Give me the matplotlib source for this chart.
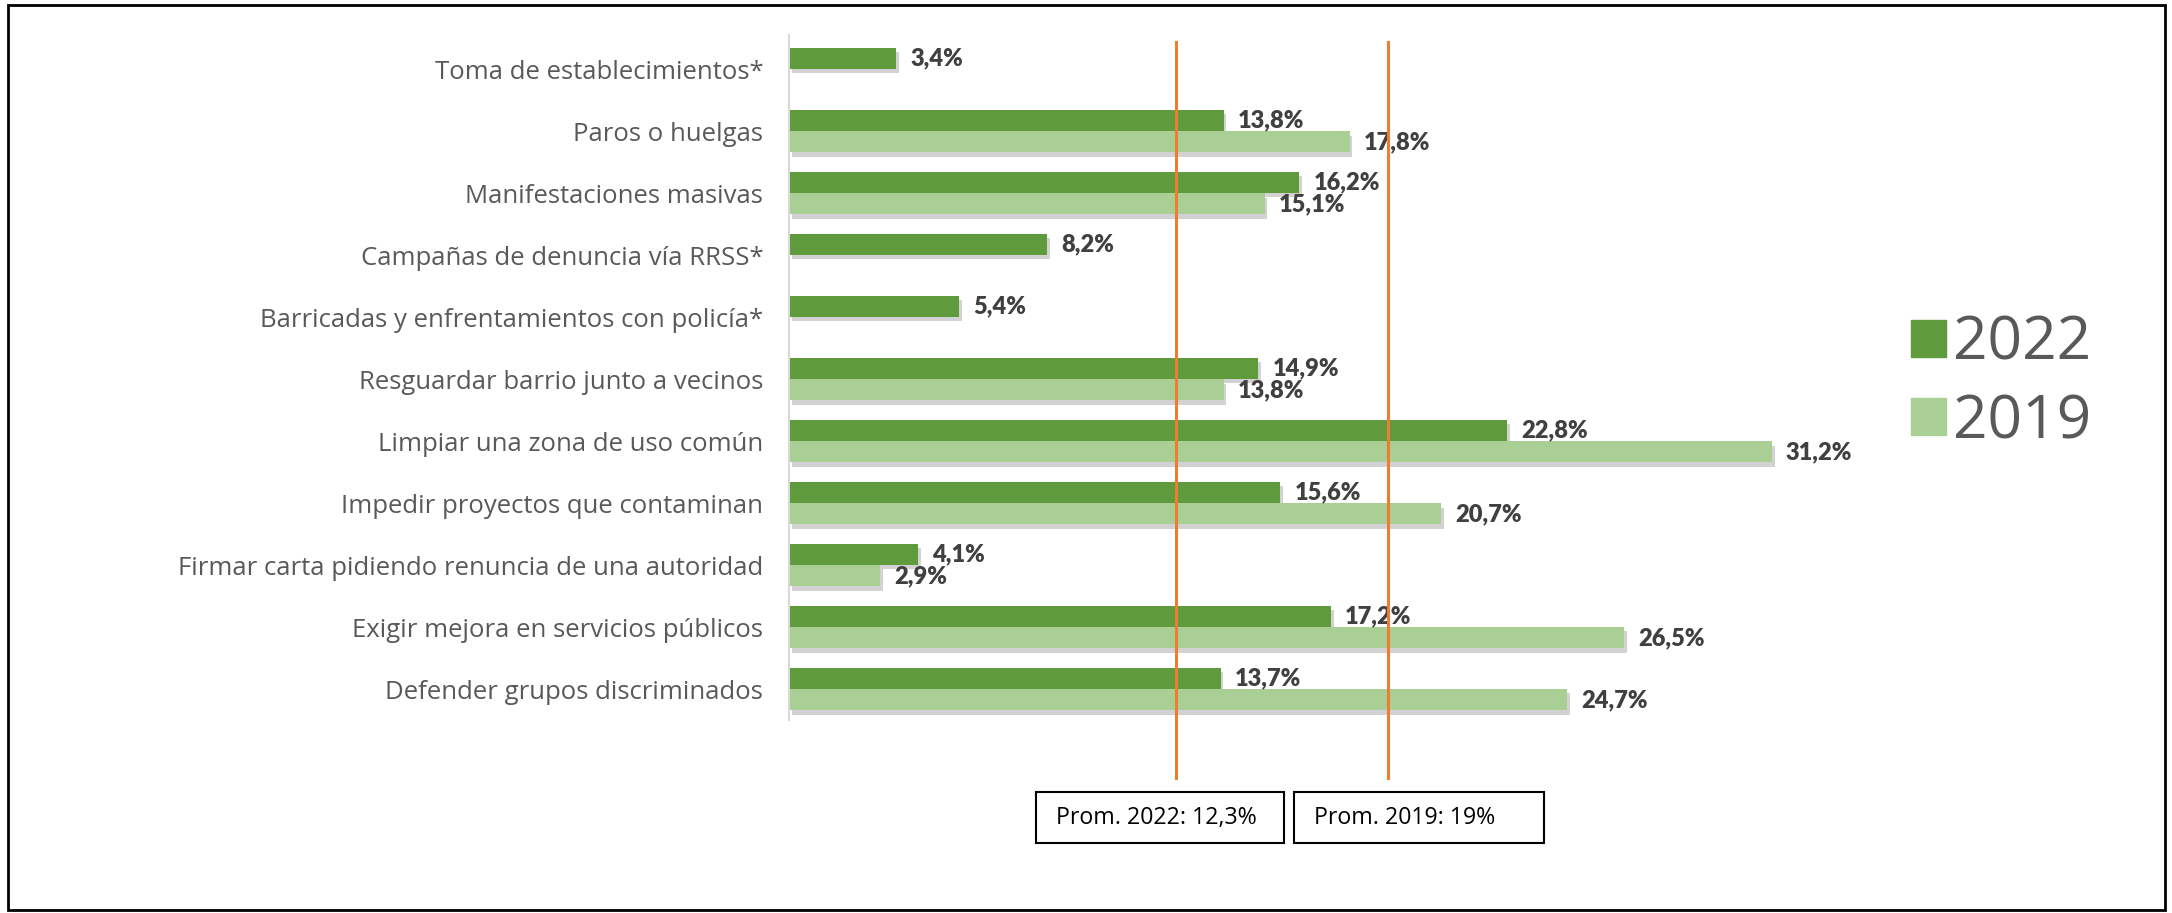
import numpy as np
import matplotlib.pyplot as plt
import matplotlib.patheffects as pe
from matplotlib.patches import Patch, Rectangle

# categories from top to bottom
cats = ["Toma de establecimientos*", "Paros o huelgas", "Manifestaciones masivas",
        "Campañas de denuncia vía RRSS*", "Barricadas y enfrentamientos con policía*",
        "Resguardar barrio junto a vecinos", "Limpiar una zona de uso común",
        "Impedir proyectos que contaminan", "Firmar carta pidiendo renuncia de una autoridad",
        "Exigir mejora en servicios públicos", "Defender grupos discriminados"]
v2022 = [3.4, 13.8, 16.2, 8.2, 5.4, 14.9, 22.8, 15.6, 4.1, 17.2, 13.7]
v2019 = [np.nan, 17.8, 15.1, np.nan, np.nan, 13.8, 31.2, 20.7, 2.9, 26.5, 24.7]
prom2022 = 12.3
prom2019 = 19

c2022 = '#5f9b3c'
c2019 = '#a9cf94'
gray = '#595959'

W, H = 2172, 913
fig = plt.figure(figsize=(W / 100, H / 100), dpi=100)
ax = fig.add_axes([789 / W, 1 - 720 / H, 1071 / W, 685 / H])

y = np.arange(len(cats))
h = 0.34
shadow = [pe.SimplePatchShadow(offset=(2, -3), shadow_rgbFace='#808080', alpha=0.35), pe.Normal()]
b1 = ax.barh(y - 0.175, v2022, height=h, color=c2022, path_effects=shadow)
b2 = ax.barh(y + 0.175, v2019, height=h, color=c2019, path_effects=shadow)


def fmt(v):
    return f"{v:.1f}".replace('.', ',') + '%'


for yy, v in zip(y - 0.175, v2022):
    ax.text(v + 0.45, yy, fmt(v), va='center', ha='left', fontsize=17,
            fontweight='heavy', color='#404040', family='Lato')
for yy, v in zip(y + 0.175, v2019):
    if not np.isnan(v):
        ax.text(v + 0.45, yy, fmt(v), va='center', ha='left', fontsize=17,
                fontweight='heavy', color='#404040', family='Lato')

ax.set_xlim(0, 34)
ax.set_ylim(10.5, -0.55)
ax.set_yticks(y)
ax.set_yticklabels(cats, family='Open Sans', fontsize=18.5, color=gray)
ax.tick_params(axis='y', length=0, pad=18.5)
ax.set_xticks([])
for s in ['top', 'right', 'bottom']:
    ax.spines[s].set_visible(False)
ax.spines['left'].set_color('#d9d9d9')
ax.spines['left'].set_linewidth(1.5)

# average lines, they run below the plot area
for p in [prom2022, prom2019]:
    ax.axvline(p, ymin=-0.085, ymax=0.99, color='#ed7d31', lw=2.2, clip_on=False, zorder=5)

# boxes with averages
boxes = [(1036, 1284, "Prom. 2022: " + f"{prom2022:.1f}".replace('.', ',') + "%"),
         (1294, 1544, f"Prom. 2019: {prom2019}%")]
for x0, x1, txt in boxes:
    fig.patches.append(Rectangle((x0 / W, 1 - 843 / H), (x1 - x0) / W, 51 / H,
                                 transform=fig.transFigure, fill=False, ec='black', lw=1.5))
    fig.text((x0 + 20) / W, 1 - 818 / H, txt, ha='left', va='center', fontsize=16.7,
             family='Open Sans', color='black')

# legend
handles = [Patch(color=c2022, label='2022'), Patch(color=c2019, label='2019')]
leg = fig.legend(handles=handles, loc='center left', bbox_to_anchor=(1857 / W, 1 - 383 / H),
                 frameon=False, handlelength=0.57, handleheight=0.57,
                 handletextpad=0.12, labelspacing=0.3, prop={'family': 'Open Sans', 'size': 43.5})
for t in leg.get_texts():
    t.set_color(gray)

# outer frame
fig.patches.append(Rectangle((8 / W, 1 - 910 / H), 2157 / W, 905 / H, transform=fig.transFigure,
                             fill=False, ec='black', lw=2))

plt.savefig("out.png", dpi=100)
